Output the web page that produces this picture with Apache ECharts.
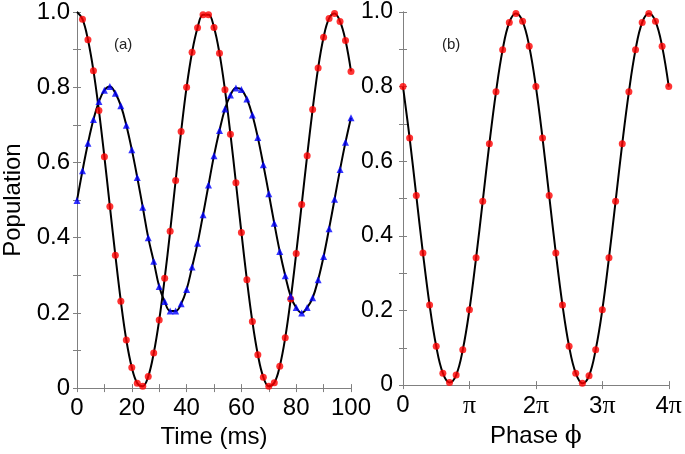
<!DOCTYPE html>
<html>
<head>
<meta charset="utf-8">
<script src="https://cdn.jsdelivr.net/npm/echarts@6/dist/echarts.min.js"></script>
<style>html,body{margin:0;padding:0;background:#fff;}#c{width:685px;height:454px;}</style>
</head>
<body>
<div id="c"></div>
<script>
// Panel (a): time in ms
var timeMs = [0,2,4,6,8,10,12,14,16,18,20,22,24,26,28,30,32,34,36,38,40,42,44,46,48,50,52,54,56,58,60,62,64,66,68,70,72,74,76,78,80,82,84,86,88,90,92,94,96,98,100];
var redPop = [1.0,0.981,0.926,0.844,0.738,0.615,0.483,0.353,0.231,0.128,0.055,0.013,0.005,0.031,0.093,0.181,0.292,0.417,0.552,0.682,0.800,0.893,0.958,0.993,0.993,0.959,0.890,0.793,0.675,0.546,0.414,0.288,0.177,0.089,0.029,0.005,0.014,0.058,0.134,0.237,0.358,0.488,0.618,0.741,0.851,0.933,0.983,0.996,0.975,0.924,0.842];
var bluePop = [0.499,0.578,0.651,0.714,0.762,0.792,0.802,0.784,0.751,0.699,0.634,0.560,0.481,0.400,0.337,0.270,0.230,0.205,0.205,0.224,0.262,0.322,0.385,0.461,0.540,0.618,0.685,0.742,0.779,0.798,0.794,0.769,0.726,0.666,0.594,0.517,0.438,0.363,0.299,0.244,0.214,0.200,0.214,0.240,0.288,0.350,0.424,0.502,0.581,0.654,0.719];
// Panel (b): phase in units of pi
var phasePi = [0,0.1,0.2,0.3,0.4,0.5,0.6,0.7,0.8,0.9,1.0,1.1,1.2,1.3,1.4,1.5,1.6,1.7,1.8,1.9,2.0,2.1,2.2,2.3,2.4,2.5,2.6,2.7,2.8,2.9,3.0,3.1,3.2,3.3,3.4,3.5,3.6,3.7,3.8,3.9,4.0];
var phasePop = [0.800,0.662,0.508,0.354,0.215,0.104,0.032,0.007,0.027,0.095,0.202,0.341,0.493,0.647,0.786,0.899,0.972,0.996,0.975,0.908,0.800,0.662,0.508,0.354,0.215,0.104,0.032,0.005,0.025,0.095,0.202,0.341,0.493,0.647,0.786,0.899,0.972,0.996,0.975,0.908,0.800];
var yTicks = ['0','0.2','0.4','0.6','0.8','1.0'];
var phaseTicks = ['0','π','2π','3π','4π'];

function pairs(xs, ys, from) {
  var out = [];
  for (var i = from || 0; i < xs.length; i++) out.push([xs[i], ys[i]]);
  return out;
}
var AX = '#808080';
var FONT = 'Liberation Sans, Arial, sans-serif';
function yLabel(v) {
  var k = Math.round(v * 10);
  return (k % 2 === 0) ? yTicks[k / 2] : '';
}
function frameAxis(extra) {
  var base = {
    axisLine: {show: true, lineStyle: {color: AX, width: 1}},
    axisTick: {show: true, inside: true, length: 4, lineStyle: {color: AX}},
    splitLine: {show: false},
    axisLabel: {show: false}
  };
  for (var k in extra) base[k] = extra[k];
  return base;
}

var chart = echarts.init(document.getElementById('c'), null, {renderer: 'canvas'});
var option = {
  animation: false,
  backgroundColor: '#fff',
  grid: [
    {left: 75, top: 12, width: 276, height: 379},
    {left: 403, top: 12, width: 270, height: 379}
  ],
  xAxis: [
    frameAxis({type: 'value', gridIndex: 0, position: 'bottom', min: 0, max: 100, interval: 10,
      axisLabel: {show: true, margin: 8, color: '#000', fontSize: 24, fontFamily: FONT,
        formatter: function (v) { return (Math.round(v) % 20 === 0) ? String(Math.round(v)) : ''; }},
      name: 'Time (ms)', nameLocation: 'middle', nameGap: 33,
      nameTextStyle: {color: '#000', fontSize: 24, fontFamily: FONT}}),
    frameAxis({type: 'value', gridIndex: 0, position: 'top', min: 0, max: 100, interval: 10}),
    frameAxis({type: 'value', gridIndex: 1, position: 'bottom', min: 0, max: 4, interval: 1,
      axisLabel: {show: true, margin: 8, color: '#000', fontSize: 24, fontFamily: FONT,
        formatter: function (v) {
          var s = phaseTicks[Math.round(v)];
          if (s === '0') return '{n|0}';
          var num = s.replace('π', '');
          return (num ? '{n|' + num + '}' : '') + '{p|π}';
        },
        rich: {
          n: {fontSize: 24, fontFamily: FONT, color: '#000'},
          p: {fontSize: 26, fontFamily: 'Liberation Serif, serif', color: '#000'}
        }},
      name: '{a|Phase }{b|ϕ}', nameLocation: 'middle', nameGap: 33,
      nameTextStyle: {color: '#000', fontSize: 24, fontFamily: FONT,
        rich: {a: {fontSize: 24, fontFamily: FONT, color: '#000'},
               b: {fontSize: 25, fontFamily: 'DejaVu Serif, serif', color: '#000'}}}}),
    frameAxis({type: 'value', gridIndex: 1, position: 'top', min: 0, max: 4, interval: 1})
  ],
  yAxis: [
    frameAxis({type: 'value', gridIndex: 0, position: 'left', min: 0, max: 1, interval: 0.1,
      axisLabel: {show: true, margin: 7, color: '#000', fontSize: 24, fontFamily: FONT, formatter: yLabel},
      name: 'Population', nameLocation: 'middle', nameGap: 52,
      nameTextStyle: {color: '#000', fontSize: 24, fontFamily: FONT}}),
    frameAxis({type: 'value', gridIndex: 0, position: 'right', min: 0, max: 1, interval: 0.1}),
    frameAxis({type: 'value', gridIndex: 1, position: 'left', min: 0, max: 1, interval: 0.1,
      axisLabel: {show: true, margin: 10, color: '#000', fontSize: 23, fontFamily: FONT, formatter: yLabel}}),
    frameAxis({type: 'value', gridIndex: 1, position: 'right', min: 0, max: 1, interval: 0.1})
  ],
  series: [
    {type: 'line', xAxisIndex: 0, yAxisIndex: 0, data: pairs(timeMs, redPop), smooth: 0.4,
      symbol: 'none', lineStyle: {color: '#000', width: 2}, z: 2},
    {type: 'line', xAxisIndex: 0, yAxisIndex: 0, data: pairs(timeMs, bluePop), smooth: 0.4,
      symbol: 'none', lineStyle: {color: '#000', width: 2}, z: 2},
    {type: 'scatter', xAxisIndex: 0, yAxisIndex: 0, data: pairs(timeMs, redPop, 1),
      symbol: 'circle', symbolSize: 7, itemStyle: {color: '#ff0000'}, z: 3},
    {type: 'scatter', xAxisIndex: 0, yAxisIndex: 0, data: pairs(timeMs, bluePop),
      symbol: 'triangle', symbolSize: 7, itemStyle: {color: '#0000ff'}, z: 3},
    {type: 'line', xAxisIndex: 2, yAxisIndex: 2, data: pairs(phasePi, phasePop), smooth: 0.4,
      symbol: 'none', lineStyle: {color: '#000', width: 2}, z: 2},
    {type: 'scatter', xAxisIndex: 2, yAxisIndex: 2, data: pairs(phasePi, phasePop),
      symbol: 'circle', symbolSize: 7, itemStyle: {color: '#ff0000'}, z: 3}
  ],
  graphic: [
    {type: 'text', left: 114, top: 37, style: {text: '(a)', fontSize: 15, fontFamily: FONT, fill: '#222'}},
    {type: 'text', left: 442, top: 37, style: {text: '(b)', fontSize: 15, fontFamily: FONT, fill: '#222'}}
  ]
};
chart.setOption(option);
</script>
</body>
</html>
